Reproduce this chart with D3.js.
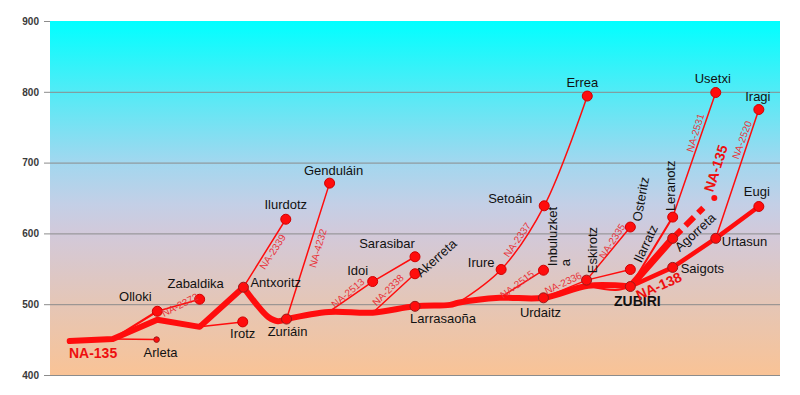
<!DOCTYPE html>
<html>
<head>
<meta charset="utf-8">
<script src="https://cdn.jsdelivr.net/npm/d3@7"></script>
<style>
  body { margin: 0; background: #fff; }
  svg text { font-family: "Liberation Sans", Arial, sans-serif; }
</style>
</head>
<body>
<svg id="chart" width="800" height="395"></svg>
<script>
// elevation ticks (m)
var yTicks = [400, 500, 600, 700, 800, 900];

// named stops: distance along the valley (arbitrary km units) and elevation (m)
var places = [
  {name: "Olloki",      km: 14.7, elev: 490},
  {name: "Arleta",      km: 14.6, elev: 450, small: true},
  {name: "Zabaldika",   km: 20.5, elev: 507},
  {name: "Irotz",       km: 26.4, elev: 475},
  {name: "Antxoritz",   km: 26.5, elev: 524, onMain: true},
  {name: "Zuriáin",     km: 32.4, elev: 479, onMain: true},
  {name: "Ilurdotz",    km: 32.3, elev: 620},
  {name: "Genduláin",   km: 38.3, elev: 671},
  {name: "Idoi",        km: 44.2, elev: 532},
  {name: "Sarasibar",   km: 50.0, elev: 567},
  {name: "Akerreta",    km: 50.0, elev: 543},
  {name: "Larrasaoña",  km: 50.0, elev: 497, onMain: true},
  {name: "Irure",       km: 61.8, elev: 549},
  {name: "Setoáin",     km: 67.7, elev: 639},
  {name: "Errea",       km: 73.6, elev: 794},
  {name: "Inbuluzketa", km: 67.6, elev: 548},
  {name: "Urdaitz",     km: 67.6, elev: 509, onMain: true},
  {name: "Eskirotz",    km: 73.5, elev: 534, onMain: true},
  {name: "Osteritz",    km: 79.5, elev: 609},
  {name: "Ilarratz",    km: 79.5, elev: 549},
  {name: "ZUBIRI",      km: 79.5, elev: 525, onMain: true},
  {name: "Leranotz",    km: 85.3, elev: 623},
  {name: "Agorreta",    km: 85.3, elev: 593, onMain: true},
  {name: "Saigots",     km: 85.3, elev: 552, onMain: true},
  {name: "Usetxi",      km: 91.2, elev: 799},
  {name: "Urtasun",     km: 91.2, elev: 593, onMain: true},
  {name: "Iragi",       km: 97.1, elev: 775},
  {name: "Eugi",        km: 97.1, elev: 638}
];

// unnamed bends / junctions on the roads
var junctions = [
  {name: "j0",  km: 2.7,  elev: 448},
  {name: "j1",  km: 8.6,  elev: 451},
  {name: "j2",  km: 14.7, elev: 478},
  {name: "j3",  km: 20.5, elev: 468},
  {name: "j4",  km: 28.2, elev: 501},
  {name: "j5",  km: 29.9, elev: 482},
  {name: "j6",  km: 31.2, elev: 476},
  {name: "j7",  km: 38.2, elev: 489},
  {name: "j8",  km: 44.2, elev: 488},
  {name: "j9",  km: 54.8, elev: 499},
  {name: "j10", km: 55.9, elev: 502},
  {name: "j11", km: 61.6, elev: 509},
  {name: "j12", km: 73.7, elev: 526},
  {name: "j13", km: 77.5, elev: 520},
  {name: "j14", km: 89.5, elev: 636},
  {name: "j15", km: 91.0, elev: 650}
];

// roads as sequences of stops
var mainWest   = ["j0","j1","j2","j3","Antxoritz"];
var mainDip    = ["Antxoritz","j4","j5","j6","Zuriáin"];
var mainEast   = ["Zuriáin","j7","j8","Larrasaoña","j9","j10","j11","Urdaitz","j12","ZUBIRI"];
var upperRoad  = ["ZUBIRI","Agorreta"];
var dashedRoad = ["Agorreta","j14"];
var na138      = ["ZUBIRI","Saigots","Urtasun","Eugi"];
var sideRoads = [
  {stops: ["j1","Arleta"], w: 1.5},
  {stops: ["j1","Olloki"], w: 2.2},
  {stops: ["Olloki","Zabaldika"], w: 1.5},
  {stops: ["j3","Irotz"], w: 1.5},
  {stops: ["Antxoritz","Ilurdotz"], w: 1.5},
  {stops: ["Zuriáin","Genduláin"], w: 1.5},
  {stops: ["j7","Idoi","Sarasibar"], w: 1.5},
  {stops: ["j8","Akerreta"], w: 1.5},
  {stops: ["j10","Irure","Setoáin","Errea"], w: 1.5, curved: true},
  {stops: ["j11","Inbuluzketa"], w: 1.5},
  {stops: ["Urdaitz","Eskirotz"], w: 1.5},
  {stops: ["j12","j13","ZUBIRI"], w: 2, curved: true},
  {stops: ["Eskirotz","Osteritz"], w: 1.5},
  {stops: ["Eskirotz","Ilarratz"], w: 1.5},
  {stops: ["ZUBIRI","Leranotz"], w: 2},
  {stops: ["Leranotz","Usetxi"], w: 1.5},
  {stops: ["Urtasun","Iragi"], w: 1.5}
];

// road names, placed at a point of the profile
var roadNames = [
  {text: "NA-135",  km: 5.9,  elev: 431, rot: 0,   bold: true},
  {text: "NA-2372", km: 17.8, elev: 499, rot: -27},
  {text: "NA-2339", km: 30.5, elev: 574, rot: -57},
  {text: "NA-4232", km: 36.7, elev: 579, rot: -74},
  {text: "NA-2513", km: 40.8, elev: 516, rot: -40},
  {text: "NA-2338", km: 46.3, elev: 520, rot: -45},
  {text: "NA-2337", km: 64.0, elev: 591, rot: -55},
  {text: "NA-2515", km: 64.0, elev: 528, rot: -37},
  {text: "NA-2336", km: 70.3, elev: 530, rot: -25},
  {text: "NA-2335", km: 77.0, elev: 589, rot: -57},
  {text: "NA-2531", km: 88.4, elev: 742, rot: -73},
  {text: "NA-2520", km: 94.8, elev: 732, rot: -70},
  {text: "NA-135",  km: 91.2, elev: 692, rot: -72, bold: true},
  {text: "NA-138",  km: 83.4, elev: 526, rot: -24, bold: true}
];

// label placement (px offsets from the marker)
var labelLayout = {
  "Olloki":      {dx: -22, dy: -10, anchor: "middle"},
  "Arleta":      {dx: 4,   dy: 17,  anchor: "middle"},
  "Zabaldika":   {dx: -4,  dy: -11, anchor: "middle"},
  "Antxoritz":   {dx: 7,   dy: 0,   anchor: "start"},
  "Irotz":       {dx: 0,   dy: 16,  anchor: "middle"},
  "Zuriáin":     {dx: 1,   dy: 17,  anchor: "middle"},
  "Ilurdotz":    {dx: 0,   dy: -10, anchor: "middle"},
  "Genduláin":   {dx: 4,   dy: -8,  anchor: "middle"},
  "Idoi":        {dx: -15, dy: -7,  anchor: "middle"},
  "Sarasibar":   {dx: -28, dy: -9,  anchor: "middle"},
  "Akerreta":    {dx: 6,   dy: 4,   anchor: "start", rot: -42},
  "Larrasaoña":  {dx: 28,  dy: 17,  anchor: "middle"},
  "Irure":       {dx: -20, dy: -3,  anchor: "middle"},
  "Setoáin":     {dx: -34, dy: -3,  anchor: "middle"},
  "Errea":       {dx: -5,  dy: -9,  anchor: "middle"},
  "Inbuluzketa": {dx: 14,  dy: -4,  anchor: "start", rot: -90, lines: ["Inbuluzket", "a"]},
  "Urdaitz":     {dx: -3,  dy: 19,  anchor: "middle"},
  "Eskirotz":    {dx: 10,  dy: -7,  anchor: "start", rot: -90},
  "Osteritz":    {dx: 11,  dy: -5,  anchor: "start", rot: -80},
  "Ilarratz":    {dx: 11,  dy: -6,  anchor: "start", rot: -65},
  "ZUBIRI":      {dx: 7,   dy: 19,  anchor: "middle", bold: true},
  "Leranotz":    {dx: 2,   dy: -6,  anchor: "start", rot: -90},
  "Agorreta":    {dx: 7,   dy: 14,  anchor: "start", rot: -42},
  "Saigots":     {dx: 8,   dy: 6,   anchor: "start"},
  "Usetxi":      {dx: -3,  dy: -10, anchor: "middle"},
  "Urtasun":     {dx: 6,   dy: 8,   anchor: "start"},
  "Iragi":       {dx: -1,  dy: -9,  anchor: "middle"},
  "Eugi":        {dx: -2,  dy: -10, anchor: "middle"}
};

var width = 800, height = 395;
var margin = {top: 21, right: 20, bottom: 20, left: 50};
var red = "#ff0d0d";

var svg = d3.select("#chart");

var xScale = d3.scaleLinear().domain([0, 100]).range([margin.left, width - margin.right]);
var yScale = d3.scaleLinear().domain([400, 900]).range([height - margin.bottom, margin.top]);

var lookup = {};
places.concat(junctions).forEach(function(d){ lookup[d.name] = d; });
function pts(names){ return names.map(function(n){ return lookup[n]; }); }

// background gradient (sky to earth)
var grad = svg.append("defs").append("linearGradient")
  .attr("id", "bg")
  .attr("gradientUnits", "userSpaceOnUse")
  .attr("x1", 0).attr("x2", 0)
  .attr("y1", yScale(900)).attr("y2", yScale(400));
var stops = [[900, "#00ffff"], [800, "#52ebf6"], [700, "#a2d7ef"], [640, "#c4cfe6"],
             [600, "#d2c9da"], [500, "#e5c6b6"], [400, "#f9c396"]];
stops.forEach(function(s){
  grad.append("stop")
      .attr("offset", (900 - s[0]) / 500)
      .attr("stop-color", s[1]);
});

svg.append("rect")
   .attr("x", xScale(0)).attr("y", yScale(900))
   .attr("width", xScale(100) - xScale(0))
   .attr("height", yScale(400) - yScale(900))
   .attr("fill", "url(#bg)");

// grid
svg.append("g")
   .attr("class", "grid")
   .selectAll("line")
   .data(yTicks.filter(function(t){ return t < 900; }))
   .enter().append("line")
   .attr("x1", xScale(0) - 6).attr("x2", xScale(100))
   .attr("y1", function(d){ return yScale(d) + 0.5; })
   .attr("y2", function(d){ return yScale(d) + 0.5; })
   .attr("stroke", "#8c8c8c")
   .attr("stroke-width", 1);

svg.append("line")
   .attr("x1", xScale(0) - 6).attr("x2", xScale(0))
   .attr("y1", yScale(900) + 0.5).attr("y2", yScale(900) + 0.5)
   .attr("stroke", "#8c8c8c");

var axis_y = d3.axisLeft(yScale).tickValues(yTicks).tickSize(0).tickPadding(11);
var gy = svg.append("g")
   .attr("transform", "translate(" + xScale(0) + ",0)")
   .call(axis_y);
gy.select(".domain").remove();
gy.selectAll("text")
  .style("font-family", "'Liberation Sans', Arial, sans-serif")
  .style("font-size", "10px")
  .style("font-weight", "bold")
  .attr("fill", "#3a3a3a");

// roads
var line = d3.line()
  .x(function(d){ return xScale(d.km); })
  .y(function(d){ return yScale(d.elev); });
var curvedLine = d3.line()
  .x(function(d){ return xScale(d.km); })
  .y(function(d){ return yScale(d.elev); })
  .curve(d3.curveCatmullRom.alpha(0.5));

var roads = svg.append("g").attr("fill", "none").attr("stroke", red)
  .attr("stroke-linecap", "round").attr("stroke-linejoin", "round");

roads.selectAll("path.side")
  .data(sideRoads)
  .enter().append("path")
  .attr("class", "side")
  .attr("stroke-width", function(d){ return d.w; })
  .attr("d", function(d){ return (d.curved ? curvedLine : line)(pts(d.stops)); });

roads.append("path")
  .attr("stroke-width", 6)
  .attr("d", line(pts(mainWest)));

roads.append("path")
  .attr("stroke-width", 6)
  .attr("d", curvedLine(pts(mainDip)));

roads.append("path")
  .attr("stroke-width", 6)
  .attr("d", curvedLine(pts(mainEast)));

roads.append("path")
  .attr("stroke-width", 7)
  .attr("d", line(pts(upperRoad)));

roads.append("path")
  .attr("stroke-width", 6)
  .attr("stroke-linecap", "butt")
  .attr("stroke-dasharray", "12,6")
  .attr("d", line(pts(dashedRoad)));

roads.append("path")
  .attr("stroke-width", 4.5)
  .attr("d", line(pts(na138)));

svg.append("circle")
  .attr("cx", xScale(lookup["j15"].km))
  .attr("cy", yScale(lookup["j15"].elev))
  .attr("r", 3)
  .attr("fill", red);

// markers
svg.append("g").selectAll("circle")
  .data(places)
  .enter().append("circle")
  .attr("cx", function(d){ return xScale(d.km); })
  .attr("cy", function(d){ return yScale(d.elev); })
  .attr("r", function(d){ return d.small ? 2.8 : 5; })
  .attr("fill", red)
  .attr("stroke", function(d){ return d.small || d.onMain ? "#9a1a1a" : "#d00000"; })
  .attr("stroke-width", 1);

// place names
var labels = svg.append("g").selectAll("text")
  .data(places)
  .enter().append("text")
  .attr("transform", function(d){
    var l = labelLayout[d.name];
    var t = "translate(" + (xScale(d.km) + l.dx) + "," + (yScale(d.elev) + l.dy) + ")";
    if (l.rot) t += " rotate(" + l.rot + ")";
    return t;
  })
  .attr("text-anchor", function(d){ return labelLayout[d.name].anchor; })
  .style("font-size", function(d){ return labelLayout[d.name].bold ? "14px" : "13px"; })
  .style("font-weight", function(d){ return labelLayout[d.name].bold ? "bold" : "normal"; })
  .attr("fill", "#111");

labels.each(function(d){
  var l = labelLayout[d.name];
  var sel = d3.select(this);
  if (l.lines) {
    l.lines.forEach(function(s, i){
      sel.append("tspan").attr("x", 0).attr("dy", i === 0 ? 0 : "1em").text(s);
    });
  } else {
    sel.text(d.name);
  }
});

// road names
svg.append("g").selectAll("text")
  .data(roadNames)
  .enter().append("text")
  .attr("transform", function(d){
    return "translate(" + xScale(d.km) + "," + yScale(d.elev) + ") rotate(" + d.rot + ")";
  })
  .attr("text-anchor", "middle")
  .attr("dominant-baseline", "central")
  .style("font-size", function(d){ return d.bold ? "14px" : "10px"; })
  .style("font-weight", function(d){ return d.bold ? "bold" : "normal"; })
  .attr("fill", function(d){ return d.bold ? "#ee0f0f" : "#e8343a"; })
  .text(function(d){ return d.text; });
</script>
</body>
</html>
